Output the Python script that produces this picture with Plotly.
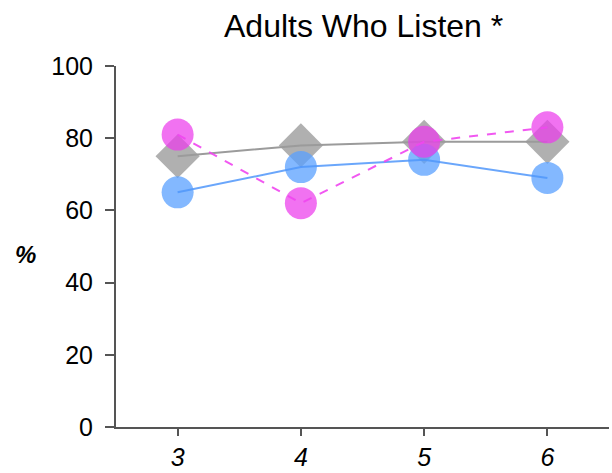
import plotly.graph_objects as go

grades = [3, 4, 5, 6]
gray_vals = [75, 78, 79, 79]
blue_vals = [65, 72, 74, 69]
magenta_vals = [81, 62, 79, 83]
y_ticks = [0, 20, 40, 60, 80, 100]

FONT = "Liberation Sans, Arial, Helvetica, sans-serif"
W, H = 612, 473
L, R, T, B = 116, 3, 66, 46
pw, ph = W - L - R, H - T - B

series = [
    (gray_vals, "diamond", 34, "rgb(176,176,176)", "rgb(155,155,155)", "solid"),
    (blue_vals, "circle", 32, "rgba(90,160,255,0.75)", "rgba(80,150,250,0.85)", "solid"),
    (magenta_vals, "circle", 32, "rgba(236,60,236,0.72)", "rgba(240,70,240,0.9)", "dash"),
]

fig = go.Figure()
for vals, sym, msize, mcol, lcol, dash in series:
    fig.add_trace(go.Scatter(
        x=grades, y=vals, mode="markers",
        marker=dict(symbol=sym, size=msize, color=mcol, line=dict(width=0)),
        showlegend=False, hoverinfo="skip"))
    fig.add_trace(go.Scatter(
        x=grades, y=vals, mode="lines",
        line=dict(color=lcol, width=2, dash=dash),
        showlegend=False, hoverinfo="skip"))

fig.update_layout(
    width=W, height=H,
    margin=dict(l=L, r=R, t=T, b=B, autoexpand=False),
    paper_bgcolor="white", plot_bgcolor="white",
    font=dict(family=FONT, color="black", size=24),
    xaxis=dict(range=[2.5, 6.5], tickvals=grades, ticktext=[str(g) for g in grades],
               automargin=False,
               showgrid=False, zeroline=False, showline=True, linecolor="#555555", linewidth=2,
               ticks="outside", ticklen=7, tickwidth=2, tickcolor="#555555",
               ticklabelstandoff=0,
               tickfont=dict(family=FONT, size=25, style="italic")),
    yaxis=dict(range=[0, 100], tickvals=y_ticks, automargin=False,
               showgrid=False, zeroline=False,
               showline=True, linecolor="#555555", linewidth=2,
               ticks="outside", ticklen=9, tickwidth=2, tickcolor="#555555",
               ticklabelstandoff=7,
               tickfont=dict(family=FONT, size=25)),
    annotations=[
        dict(text="Adults Who Listen *", xref="paper", yref="paper",
             x=(363 - L) / pw, y=(H - B - 26) / ph, xanchor="center", yanchor="middle",
             showarrow=False, font=dict(size=32)),
        dict(text="<b><i>%</i></b>", xref="paper", yref="paper",
             x=(25 - L) / pw, y=(H - B - 254) / ph, xanchor="center", yanchor="middle",
             showarrow=False, font=dict(size=24)),
    ],
)

fig.write_html("out.html", config={"displayModeBar": False, "staticPlot": True})
with open("out.html", "r", encoding="utf-8") as f:
    html = f.read()
html = html.replace("<head>", "<head><style>html,body{margin:0;padding:0;overflow:hidden;}</style>", 1)
with open("out.html", "w", encoding="utf-8") as f:
    f.write(html)
